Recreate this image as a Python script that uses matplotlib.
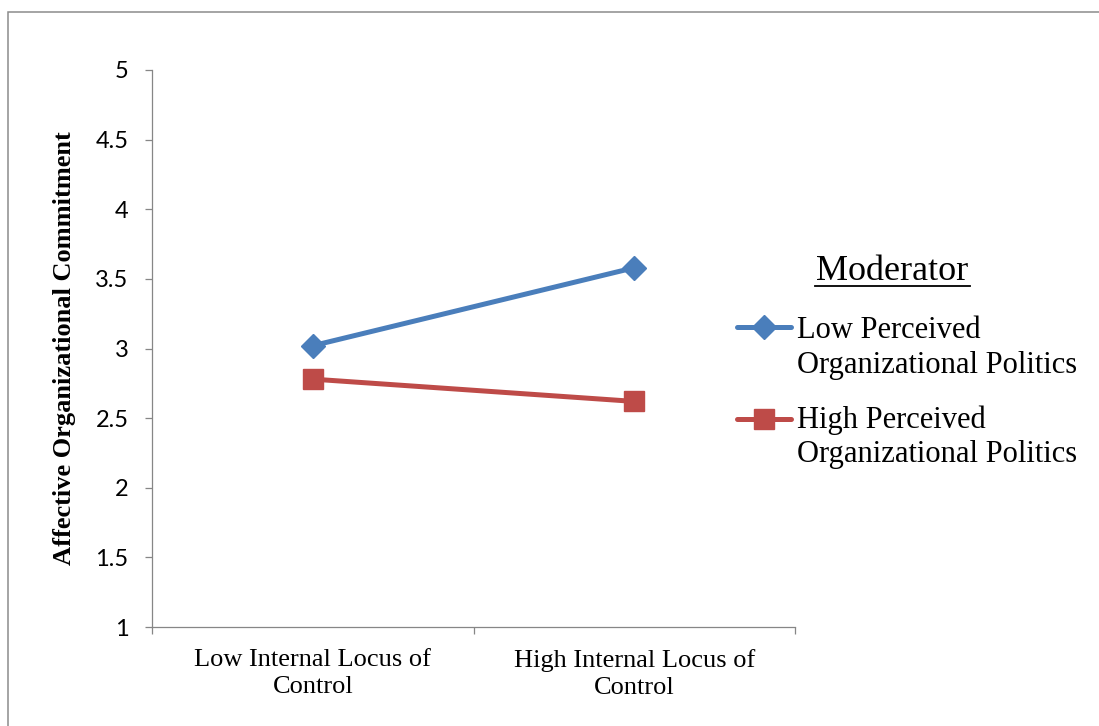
import matplotlib
matplotlib.use("Agg")
import matplotlib.pyplot as plt
from matplotlib.lines import Line2D
from matplotlib.patches import Rectangle

# cell means for the interaction plot
groups = ["Low Internal Locus of\nControl", "High Internal Locus of\nControl"]
low_politics = [3.02, 3.58]
high_politics = [2.78, 2.62]
series_names = [("Low Perceived", "Organizational Politics"),
                ("High Perceived", "Organizational Politics")]
y_ticks = [1, 1.5, 2, 2.5, 3, 3.5, 4, 4.5, 5]

blue = "#4A7EBB"
red = "#BE4B48"
axis_grey = "#868686"
serif = "Liberation Serif"

W, H = 1099, 726
fig = plt.figure(figsize=(W / 100, H / 100), dpi=100)
ax = fig.add_axes([152 / W, 1 - 627 / H, (795 - 152) / W, (627 - 70) / H])

x = list(range(len(groups)))
ax.plot(x, low_politics, color=blue, lw=3.6, marker="D", ms=12,
        solid_capstyle="round", zorder=3)
ax.plot(x, high_politics, color=red, lw=3.6, marker="s", ms=14,
        solid_capstyle="round", zorder=3)

ax.set_xlim(-0.5, len(groups) - 0.5)
ax.set_ylim(1, 5)

for side in ("top", "right"):
    ax.spines[side].set_visible(False)
for side in ("left", "bottom"):
    ax.spines[side].set_color(axis_grey)
    ax.spines[side].set_linewidth(0.9)

ax.set_yticks(y_ticks)
ax.set_yticklabels([f"{v:g}" for v in y_ticks], family="Lato", fontsize=17)
ax.tick_params(axis="y", direction="out", length=5, width=0.9,
               color=axis_grey, pad=12)

# category labels sit between the boundary ticks
ax.set_xticks(x)
ax.set_xticklabels(groups, family=serif, fontsize=19, linespacing=1.3)
ax.set_xticks([-0.5, 0.5, 1.5], minor=True)
ax.tick_params(axis="x", which="major", length=0, pad=16)
ax.tick_params(axis="x", which="minor", direction="out", length=5,
               width=0.9, color=axis_grey)

ax.set_ylabel("Affective Organizational Commitment", family=serif,
              fontsize=19, fontweight="bold")
ax.yaxis.set_label_coords(-0.118, 0.5)

# legend drawn by hand so the markers line up with the first text line
def fx(px):
    return px / W

def fy(py):
    return 1 - py / H

title = fig.text(fx(892), fy(280), "Moderator", family=serif, fontsize=26,
                 ha="center", va="baseline")
fig.add_artist(Line2D([fx(815), fx(970)], [fy(286), fy(286)],
                      color="black", lw=1.3))

entries = [(blue, "D", 12, 327, 338, 373),
           (red, "s", 14, 419, 428, 462)]
for (color, mk, ms, hy, b1, b2), (line1, line2) in zip(entries, series_names):
    fig.add_artist(Line2D([fx(737), fx(791)], [fy(hy), fy(hy)], color=color,
                          lw=3.6, solid_capstyle="round"))
    fig.add_artist(Line2D([fx(764)], [fy(hy)], color=color, marker=mk,
                          ms=ms, lw=0))
    fig.text(fx(797), fy(b1), line1, family=serif, fontsize=22,
             va="baseline")
    fig.text(fx(797), fy(b2), line2, family=serif, fontsize=22,
             va="baseline")

# chart frame
fig.add_artist(Rectangle((8 / W, -0.5), 2, 0.5 + fy(11.5), fill=False,
                         edgecolor="#8C8C8C", lw=1.1,
                         transform=fig.transFigure))

fig.savefig("out.png", dpi=100)
